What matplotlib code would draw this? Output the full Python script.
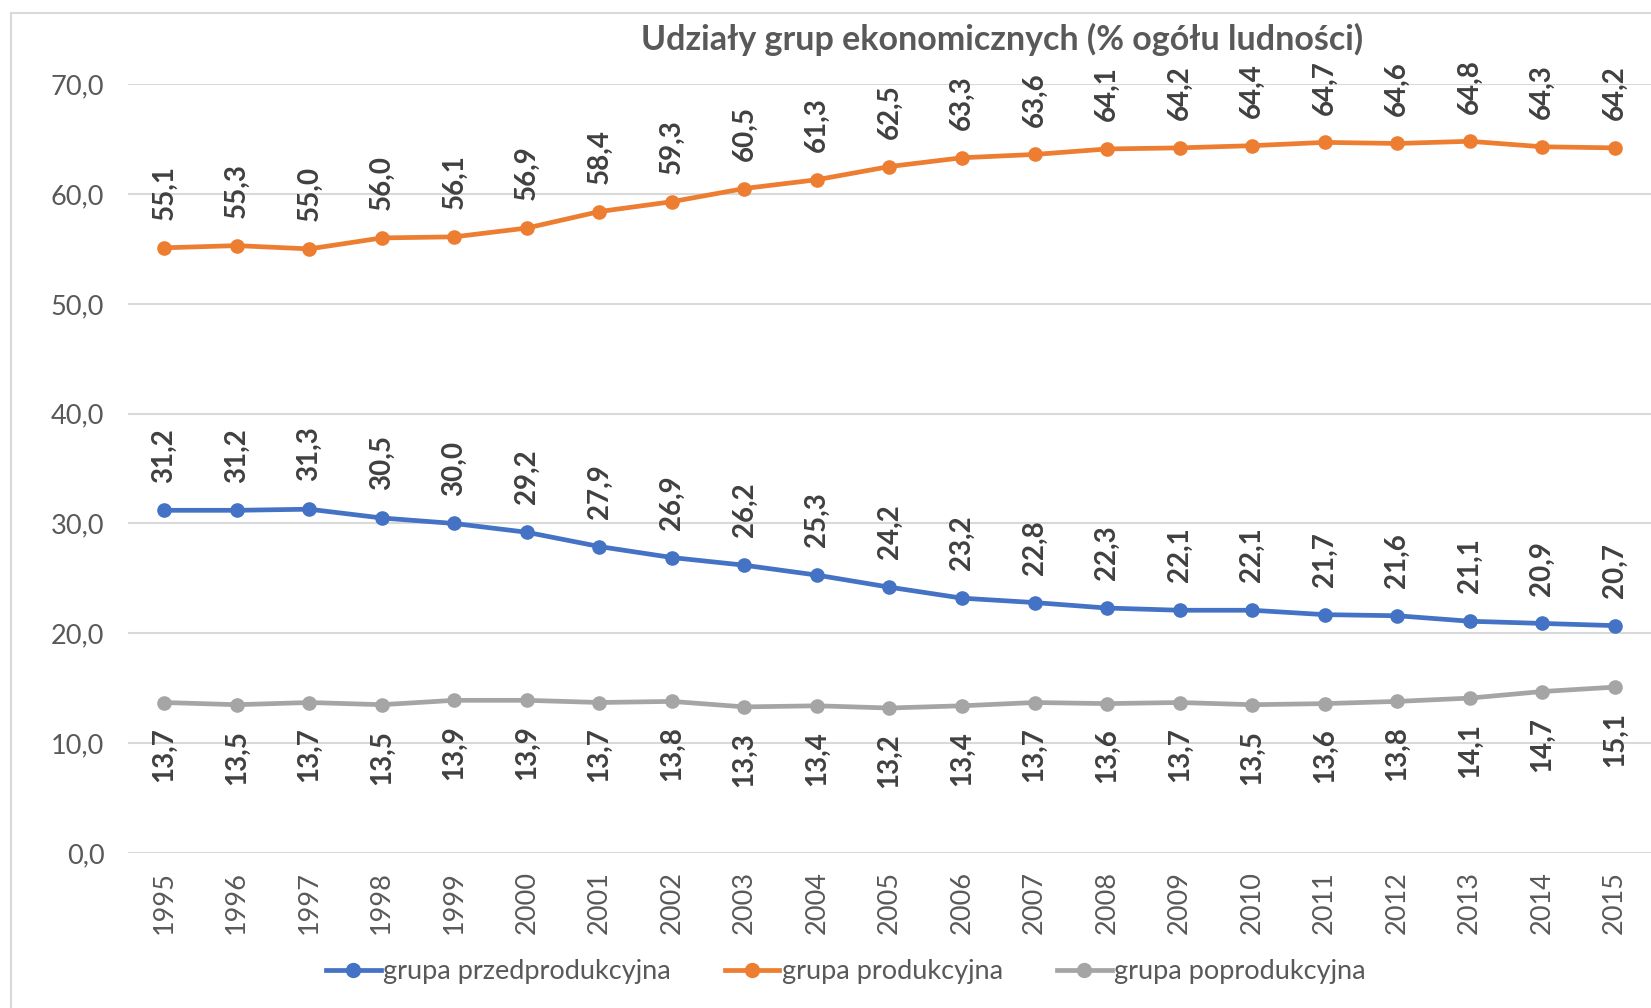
import numpy as np
from matplotlib import pyplot as plt
from matplotlib.lines import Line2D

lata = list(range(1995, 2016))
przed = [31.2, 31.2, 31.3, 30.5, 30.0, 29.2, 27.9, 26.9, 26.2, 25.3, 24.2,
         23.2, 22.8, 22.3, 22.1, 22.1, 21.7, 21.6, 21.1, 20.9, 20.7]
prod = [55.1, 55.3, 55.0, 56.0, 56.1, 56.9, 58.4, 59.3, 60.5, 61.3, 62.5,
        63.3, 63.6, 64.1, 64.2, 64.4, 64.7, 64.6, 64.8, 64.3, 64.2]
popr = [13.7, 13.5, 13.7, 13.5, 13.9, 13.9, 13.7, 13.8, 13.3, 13.4, 13.2,
        13.4, 13.7, 13.6, 13.7, 13.5, 13.6, 13.8, 14.1, 14.7, 15.1]
nazwy = ["grupa przedprodukcyjna", "grupa produkcyjna", "grupa poprodukcyjna"]
kolory = ["#4472C4", "#ED7D31", "#A5A5A5"]
yticks = [0, 10, 20, 30, 40, 50, 60, 70]

plt.rcParams['font.family'] = ['Lato', 'DejaVu Sans']

def przecinek(v):
    return f"{v:.1f}".replace('.', ',')

fig = plt.figure(figsize=(16.51, 10.08), dpi=100)
ax = fig.add_axes([0.0775, 0.1538, 0.9225, 0.7627])

x = np.arange(len(lata))
serie = [przed, prod, popr]
for dane, nazwa, kol in zip(serie, nazwy, kolory):
    ax.plot(x, dane, color=kol, lw=3.4, marker='o', ms=9.5, label=nazwa,
            solid_capstyle='round')

# etykiety danych
for i in x:
    ax.annotate(przecinek(przed[i]), (i, przed[i]), xytext=(0, 20),
                textcoords='offset points', rotation=90, ha='center', va='bottom',
                fontsize=20, fontweight='bold', color='#404040')
    ax.annotate(przecinek(prod[i]), (i, prod[i]), xytext=(0, 20),
                textcoords='offset points', rotation=90, ha='center', va='bottom',
                fontsize=20, fontweight='bold', color='#404040')
    ax.annotate(przecinek(popr[i]), (i, popr[i]), xytext=(0, -18),
                textcoords='offset points', rotation=90, ha='center', va='top',
                fontsize=20, fontweight='bold', color='#404040')

ax.set_xlim(-0.5, len(lata) - 0.5)
ax.set_ylim(0, 70)
ax.set_yticks(yticks)
ax.set_yticklabels([przecinek(v) for v in yticks])
ax.set_xticks(x)
ax.set_xticklabels([str(r) for r in lata], rotation=90)
ax.tick_params(axis='y', length=0, pad=17, labelsize=19.5, labelcolor='#595959')
ax.tick_params(axis='x', length=0, pad=13, labelsize=19.5, labelcolor='#595959')
ax.grid(axis='y', color='#D9D9D9', lw=1.5)
ax.set_axisbelow(True)
for s in ax.spines.values():
    s.set_visible(False)

fig.text(0.607, 0.961, "Udziały grup ekonomicznych (% ogółu ludności)",
         ha='center', va='center', fontsize=24.5, fontweight='bold', color='#595959')

uchwyty = [Line2D([], [], color=k, lw=3.4, marker='o', ms=10) for k in kolory]
fig.legend(uchwyty, nazwy, loc='center', bbox_to_anchor=(0.5125, 0.036), ncol=3,
           frameon=False, fontsize=19.5, labelcolor='#595959', handlelength=2.0,
           handletextpad=0.1, columnspacing=2.0)

# ramka wykresu
fig.add_artist(Line2D([0.0064, 0.0064], [0, 0.9875], color='#D9D9D9', lw=1.5))
fig.add_artist(Line2D([0.0064, 1], [0.9875, 0.9875], color='#D9D9D9', lw=1.5))

fig.savefig("out.png", dpi=100)
